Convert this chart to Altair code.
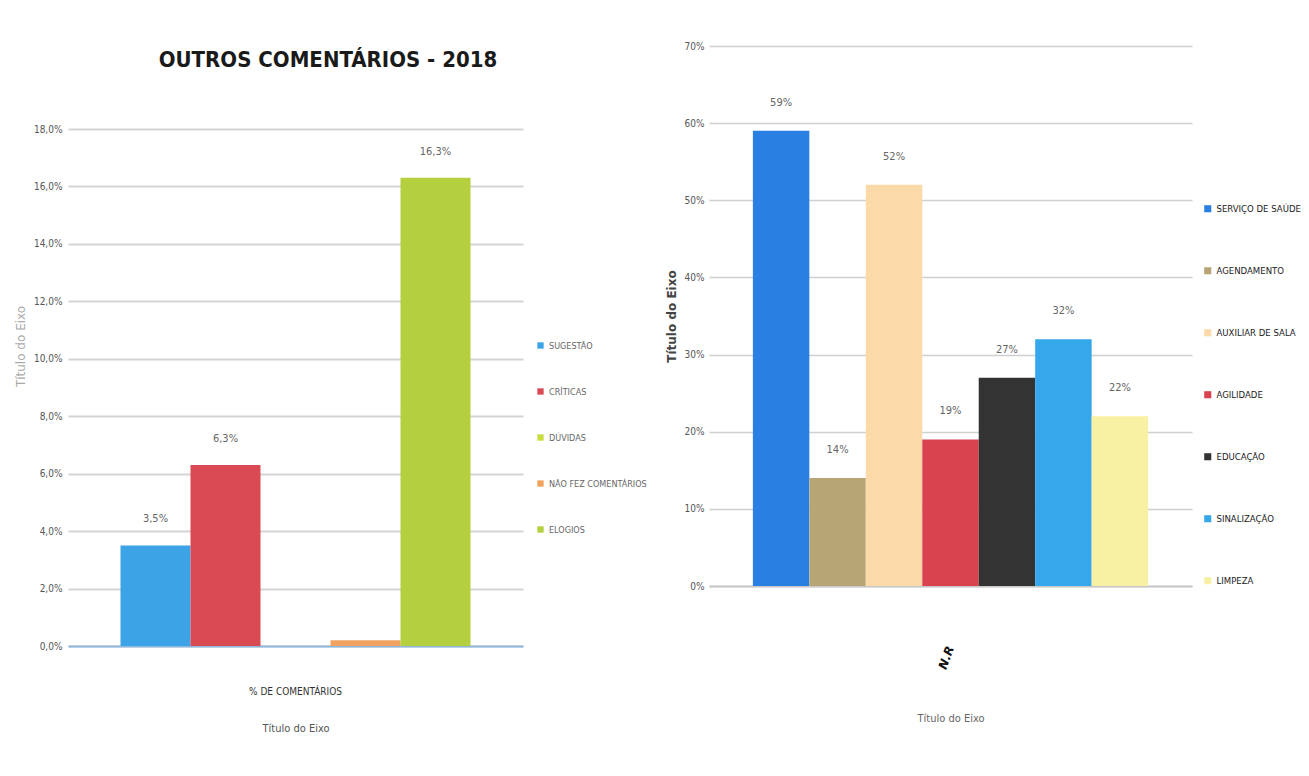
import altair as alt
import pandas as pd

# ---- data (left panel) ----
left_title = "OUTROS COMENTÁRIOS - 2018"
left_group = "% DE COMENTÁRIOS"
left_categories = ["SUGESTÃO", "CRÍTICAS", "DÚVIDAS", "NÃO FEZ COMENTÁRIOS", "ELOGIOS"]
left_values = [0.035, 0.063, 0.0, 0.002, 0.163]
left_colors = ["#3ba3e6", "#d94a55", "#c8dc3c", "#f0a35e", "#b4d03e"]
left_ticks = [0.0, 0.02, 0.04, 0.06, 0.08, 0.10, 0.12, 0.14, 0.16, 0.18]

# ---- data (right panel) ----
right_group = "N.R"
right_categories = ["SERVIÇO DE SAÚDE", "AGENDAMENTO", "AUXILIAR DE SALA", "AGILIDADE",
                    "EDUCAÇÃO", "SINALIZAÇÃO", "LIMPEZA"]
right_values = [0.59, 0.14, 0.52, 0.19, 0.27, 0.32, 0.22]
right_colors = ["#2a80e2", "#b8a576", "#fbd9a8", "#d8434f", "#333333", "#35a8ec", "#f8f0a2"]
right_ticks = [0.0, 0.1, 0.2, 0.3, 0.4, 0.5, 0.6, 0.7]

axis_title = "Título do Eixo"
NARROW = "'DejaVu Sans Condensed', 'Liberation Sans Narrow', 'Roboto', sans-serif"


def pt_label(v):
    return (f"{v * 100:.1f}".replace(".", ",") + "%") if v >= 0.01 else ""


df_l = pd.DataFrame({
    "grupo": [left_group] * len(left_categories),
    "cat": left_categories,
    "v": left_values,
    "lab": [pt_label(v) for v in left_values],
})
df_r = pd.DataFrame({
    "grupo": [right_group] * len(right_categories),
    "cat": right_categories,
    "v": right_values,
    "lab": [f"{round(v * 100)}%" for v in right_values],
})
df_title = pd.DataFrame({"t": [left_title]})

# ---------------- left chart ----------------
# plot area is taller than the 18% grid so that the title sits inside it,
# matching the lower plot top of the left panel
L_H = 600
L_TOP = 0.18 * L_H / 517.0

xl = alt.X("grupo:N",
           scale=alt.Scale(paddingInner=0, paddingOuter=0.15),
           axis=alt.Axis(title=axis_title, labelAngle=0, labelPadding=40, titlePadding=26,
                         ticks=False, domainColor="#8db7dd", domainWidth=2,
                         labelFont=NARROW, labelFontSize=10, labelColor="#333",
                         titleFont=NARROW, titleFontSize=11, titleFontWeight="normal",
                         titleColor="#555"))
xol = alt.XOffset("cat:N", sort=left_categories, scale=alt.Scale(paddingInner=0, paddingOuter=0))
yl = alt.Y("v:Q", scale=alt.Scale(domain=[0, L_TOP], nice=False),
           axis=alt.Axis(values=left_ticks, title=axis_title,
                         labelExpr="replace(format(datum.value, '.1%'), '.', ',')",
                         domain=False, ticks=False, labelPadding=6,
                         gridColor="#d4d4d4", gridWidth=2,
                         labelFont=NARROW, labelFontSize=10, labelColor="#555",
                         titleFont="DejaVu Sans", titleFontSize=12, titleFontWeight="normal",
                         titleColor="#aaa", titlePadding=6))
cl = alt.Color("cat:N", sort=left_categories,
               scale=alt.Scale(domain=left_categories, range=left_colors),
               legend=alt.Legend(title=None, orient="none", legendX=468, legendY=295,
                                 symbolType="square", symbolSize=40, symbolStrokeWidth=0,
                                 labelFont=NARROW, labelFontSize=9, labelColor="#666",
                                 rowPadding=36))

bars_l = alt.Chart(df_l).mark_bar().encode(x=xl, xOffset=xol, y=yl, color=cl)
text_l = alt.Chart(df_l).mark_text(dy=-26, font=NARROW, fontSize=11, color="#666").encode(
    x=xl, xOffset=xol, y=yl, text="lab:N")
title_l = alt.Chart(df_title).mark_text(
    font=NARROW, fontSize=22, fontWeight="bold", color="#1a1a1a",
    align="center", baseline="middle").encode(
    x=alt.value(260), y=alt.value(14), text="t:N")

left = alt.layer(bars_l, text_l, title_l).properties(width=455, height=L_H)

# ---------------- right chart ----------------
xr = alt.X("grupo:N",
           scale=alt.Scale(paddingInner=0, paddingOuter=0.111),
           axis=alt.Axis(title=axis_title, labelAngle=290, labelPadding=60, titlePadding=42,
                         ticks=False, domainColor="#c8c8c8", domainWidth=2,
                         labelFont="DejaVu Sans", labelFontSize=12, labelFontWeight="bold",
                         labelFontStyle="italic", labelColor="#111",
                         titleFont=NARROW, titleFontSize=11, titleFontWeight="normal",
                         titleColor="#666"))
xor_ = alt.XOffset("cat:N", sort=right_categories, scale=alt.Scale(paddingInner=0, paddingOuter=0))
yr = alt.Y("v:Q", scale=alt.Scale(domain=[0, 0.7]),
           axis=alt.Axis(values=right_ticks, format=".0%", title=axis_title,
                         domain=False, ticks=False, labelPadding=5,
                         gridColor="#d0d0d0", gridWidth=1.5,
                         labelFont=NARROW, labelFontSize=10, labelColor="#555",
                         titleFont="DejaVu Sans", titleFontSize=12, titleFontWeight="bold",
                         titleColor="#444", titlePadding=6))
cr = alt.Color("cat:N", sort=right_categories,
               scale=alt.Scale(domain=right_categories, range=right_colors),
               legend=alt.Legend(title=None, orient="none", legendX=494, legendY=158,
                                 symbolType="square", symbolSize=50, symbolStrokeWidth=0,
                                 labelFont=NARROW, labelFontSize=9.5, labelColor="#222",
                                 rowPadding=51))

bars_r = alt.Chart(df_r).mark_bar().encode(x=xr, xOffset=xor_, y=yr, color=cr)
text_r = alt.Chart(df_r).mark_text(dy=-28, font=NARROW, fontSize=11, color="#666").encode(
    x=xr, xOffset=xor_, y=yr, text="lab:N")

right = alt.layer(bars_r, text_r).properties(width=483, height=540)

chart = alt.hconcat(left, right, spacing=18).resolve_scale(
    color="independent", x="independent", y="independent", xOffset="independent"
).resolve_legend(color="independent").properties(
    padding={"left": 6, "top": 33, "right": 0, "bottom": 0},
    background="white",
).configure_view(stroke=None)

chart.save("out.html", embed_options={"renderer": "svg", "actions": False})
